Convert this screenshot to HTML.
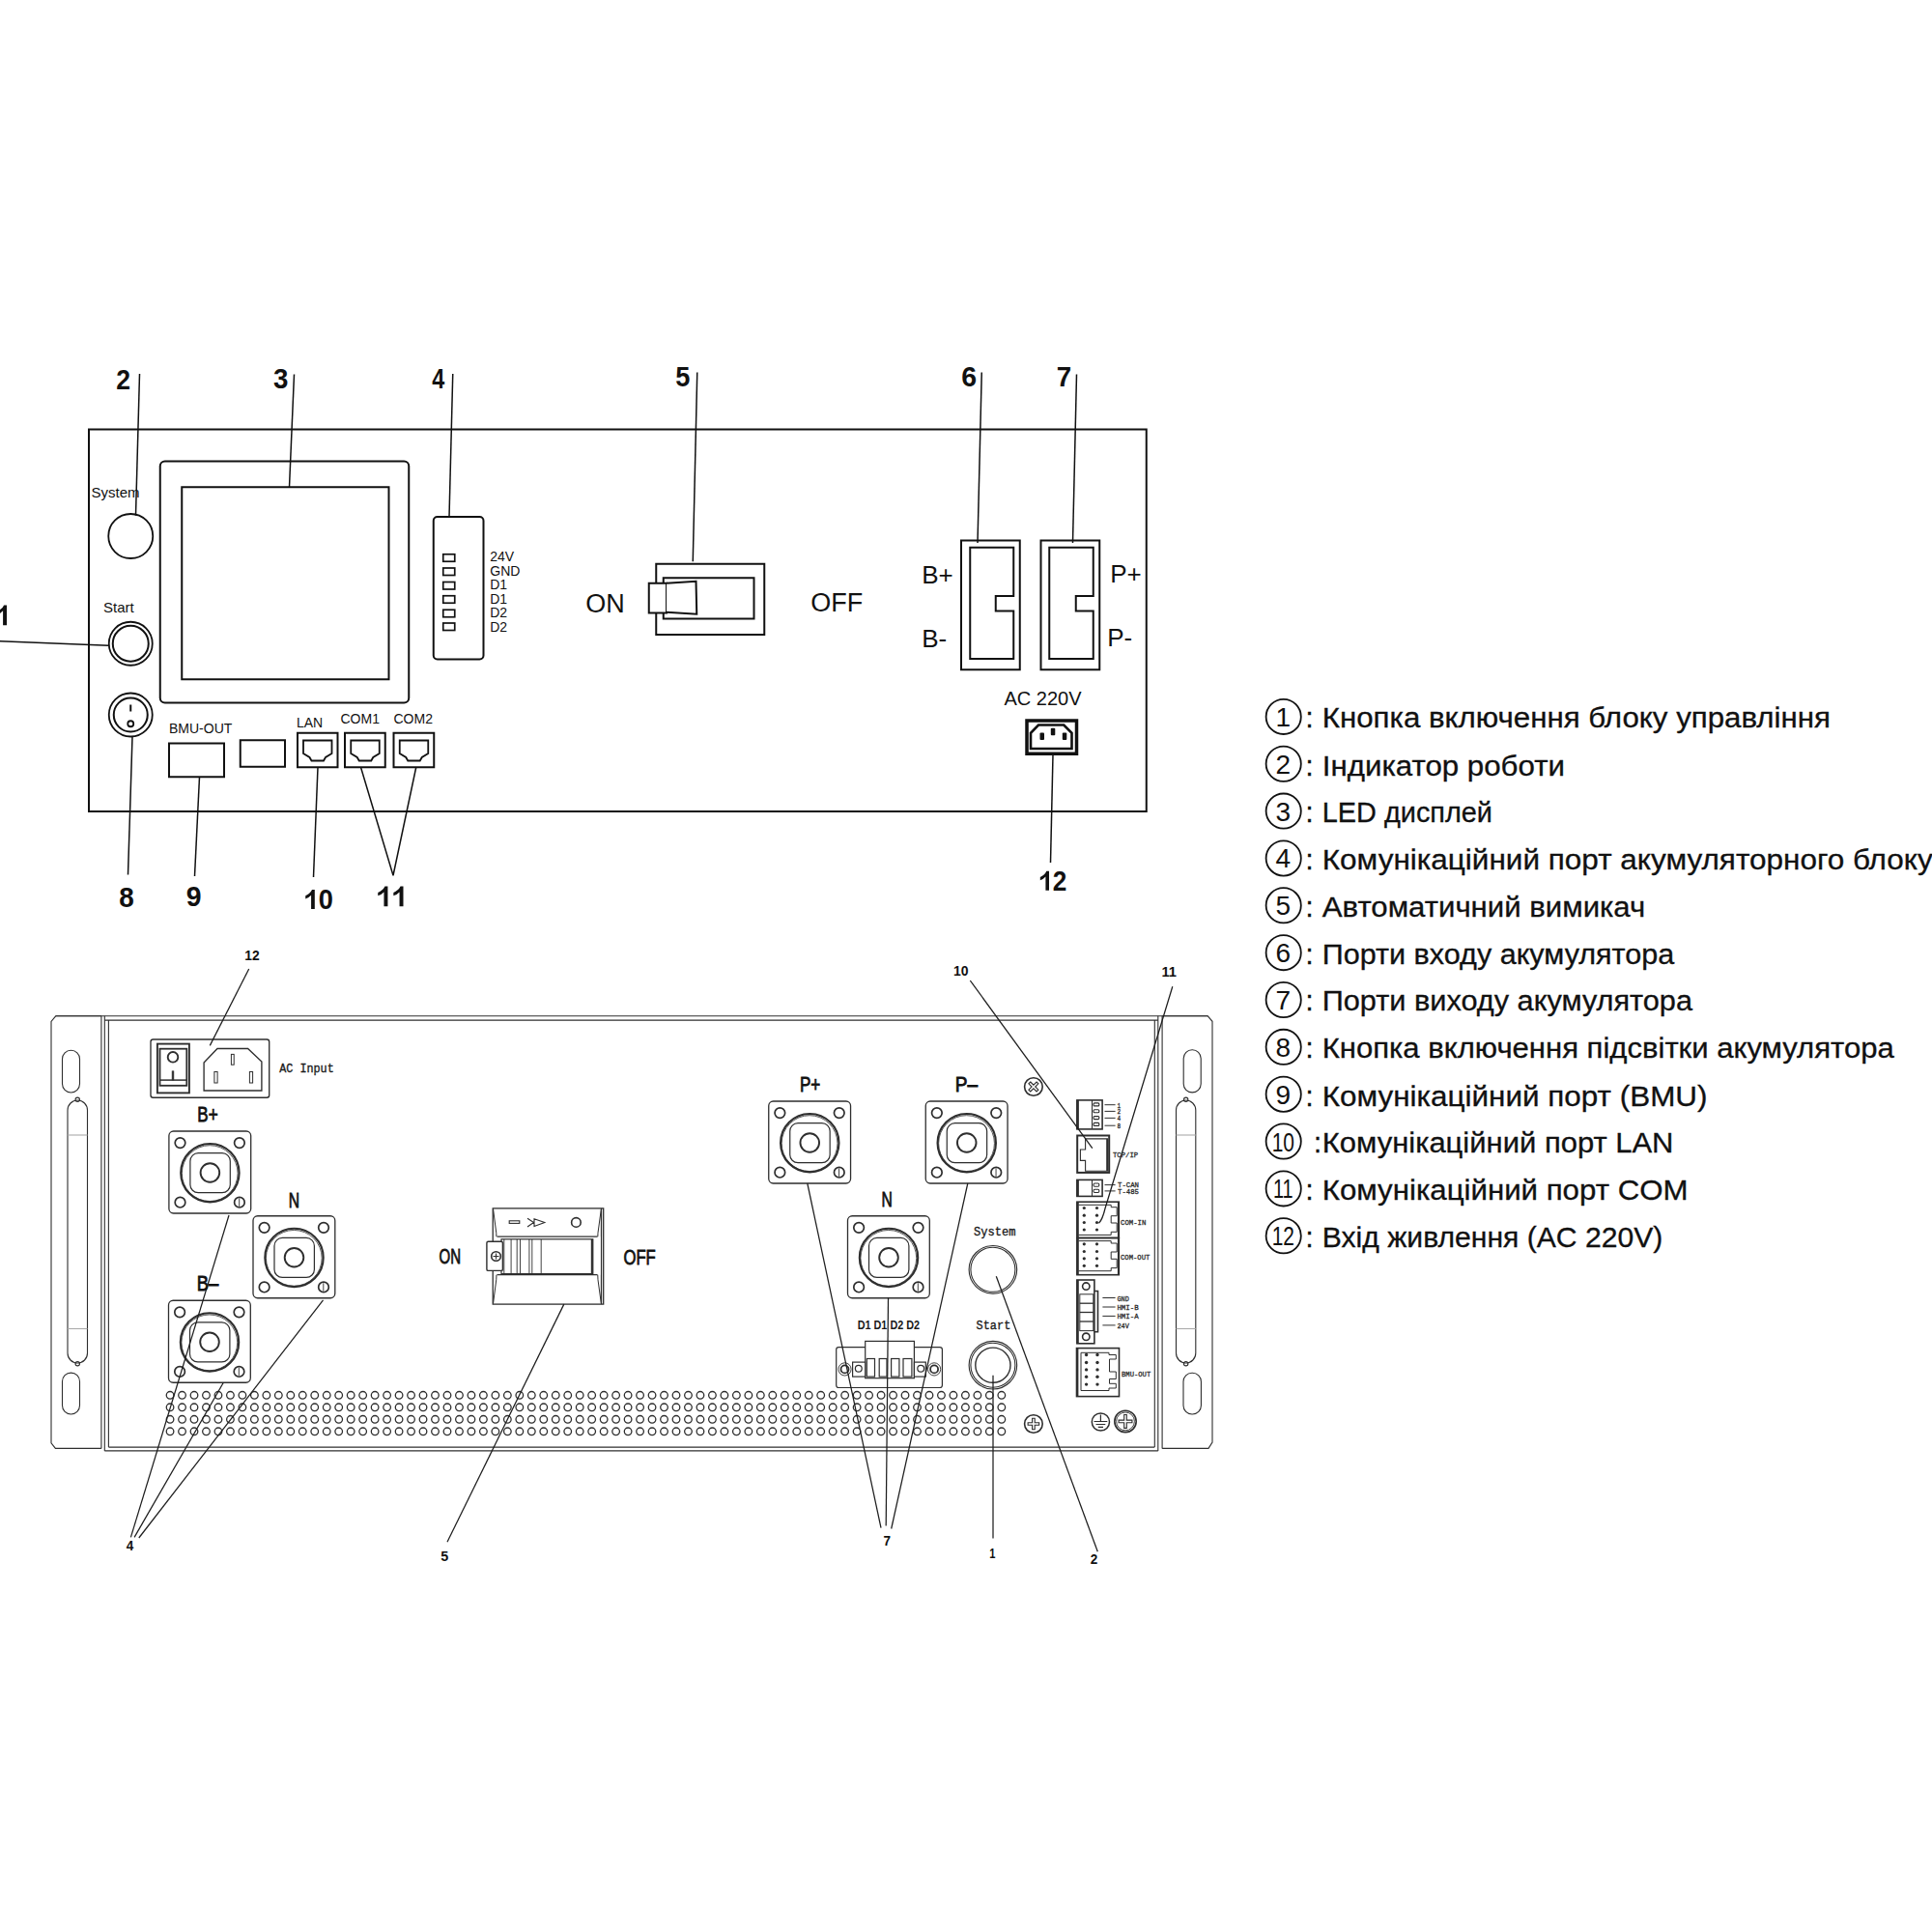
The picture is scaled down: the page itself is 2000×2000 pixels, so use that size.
<!DOCTYPE html>
<html><head><meta charset="utf-8"><style>
html,body{margin:0;padding:0;background:#fff;width:2000px;height:2000px;overflow:hidden}
svg{display:block}

</style></head><body>
<svg width="2000" height="2000" viewBox="0 0 2000 2000">
<!-- TOP DIAGRAM -->
<g fill="none" stroke="#111" stroke-width="2">
  <rect x="92" y="444.5" width="1094.75" height="395.5"/>
  <!-- display -->
  <rect x="165.75" y="477.5" width="257.5" height="250" rx="5"/>
  <rect x="188.25" y="504.25" width="214.25" height="199"/>
  <!-- buttons -->
  <circle cx="135.25" cy="555" r="23" stroke-width="1.8"/>
  <circle cx="135.25" cy="666.25" r="22.5" stroke-width="1.8"/>
  <circle cx="135.25" cy="666.25" r="18.5" stroke-width="2"/>
  <circle cx="135.25" cy="740" r="22.5" stroke-width="1.8"/>
  <circle cx="135.25" cy="740" r="17.5" stroke-width="2"/>
  <line x1="135.25" y1="729.5" x2="135.25" y2="736.5" stroke-width="2"/>
  <circle cx="135.25" cy="749.25" r="3" stroke-width="1.8"/>
  <!-- port 4 -->
  <rect x="448.75" y="535" width="51.75" height="147.5" rx="4"/>
  <g stroke-width="1.7">
    <rect x="458.75" y="573.75" width="12" height="7.5"/>
    <rect x="458.75" y="588" width="12" height="7.5"/>
    <rect x="458.75" y="602.5" width="12" height="7.5"/>
    <rect x="458.75" y="616.75" width="12" height="7.5"/>
    <rect x="458.75" y="631.25" width="12" height="7.5"/>
    <rect x="458.75" y="645" width="12" height="7.5"/>
  </g>
  <!-- bottom ports -->
  <rect x="175" y="769.5" width="57" height="34.75"/>
  <rect x="248.75" y="766.25" width="46.25" height="27.5"/>
  <rect x="308" y="758.75" width="41.5" height="35.5"/>
  <rect x="357" y="758.75" width="41.75" height="35.5"/>
  <rect x="407.5" y="758.75" width="41.75" height="35.5"/>
  <path d="M314,766.5 H343.5 V780 L337,784 L335,787.5 H322.5 L320.5,784 L314,780 Z" stroke-width="1.8"/>
  <path d="M363.25,766.5 H392.75 V780 L386.25,784 L384.25,787.5 H371.75 L369.75,784 L363.25,780 Z" stroke-width="1.8"/>
  <path d="M413.75,766.5 H443.25 V780 L436.75,784 L434.75,787.5 H422.25 L420.25,784 L413.75,780 Z" stroke-width="1.8"/>
  <!-- breaker -->
  <rect x="679.25" y="583.75" width="112" height="73.25"/>
  <rect x="686.75" y="598.25" width="93.75" height="42.25"/>
  <rect x="671.75" y="603.75" width="18.25" height="30.75" fill="#fff"/>
  <path d="M690,603.75 L720.5,601.75 L721.25,635.75 L690,633.75" fill="#fff"/>
  <!-- B/P connectors -->
  <rect x="995" y="559.5" width="60.75" height="133.75"/>
  <path d="M1004.25,566.75 H1049.25 V617 H1030.75 V632.5 H1049.25 V682 H1004.25 Z"/>
  <rect x="1077.5" y="559.5" width="60.75" height="133.75"/>
  <path d="M1086.25,566.75 H1131.75 V617 H1113.75 V632.5 H1131.75 V682 H1086.25 Z"/>
  <!-- AC socket -->
  <rect x="1063" y="746" width="51.5" height="34.25" stroke-width="3.5"/>
  <path d="M1075,750.5 H1101.25 L1109.5,758.75 V775 H1067 V758.75 Z" stroke-width="2.6"/>
  <!-- leader lines -->
  <g stroke-width="1.5">
    <line x1="0" y1="663.75" x2="112.5" y2="668.25"/>
    <line x1="144.5" y1="387" x2="140.5" y2="533.75"/>
    <line x1="304.5" y1="387.5" x2="299.5" y2="504.25"/>
    <line x1="468.75" y1="387" x2="465" y2="535"/>
    <line x1="721.75" y1="385.5" x2="717.25" y2="581.25"/>
    <line x1="1016.25" y1="385.5" x2="1012" y2="562"/>
    <line x1="1114.5" y1="387.5" x2="1110.5" y2="562"/>
    <line x1="137" y1="763" x2="132.5" y2="905.5"/>
    <line x1="206.5" y1="804.25" x2="201.5" y2="907"/>
    <line x1="329" y1="794.25" x2="324.5" y2="908"/>
    <polyline points="373.5,794.25 407,906.25 430.75,794.25"/>
    <line x1="1090" y1="781" x2="1087.5" y2="893"/>
  </g>
</g>
<g fill="#111" stroke="none">
  <rect x="1076.5" y="758.5" width="4.5" height="7.5" rx="1"/>
  <rect x="1087.8" y="753.8" width="4.5" height="7.5" rx="1"/>
  <rect x="1099.8" y="758.5" width="4.5" height="7.5" rx="1"/>
</g>
<g font-family="'Liberation Sans', sans-serif" fill="#111">

  <g font-size="15">
    <text x="94.5" y="514.5">System</text>
    <text x="107" y="633.75">Start</text>
  </g>
  <g font-size="14">
    <text x="507.25" y="580.75">24V</text>
    <text x="507.25" y="595.75">GND</text>
    <text x="507.25" y="610">D1</text>
    <text x="507.25" y="624.5">D1</text>
    <text x="507.25" y="639.25">D2</text>
    <text x="507.25" y="653.75">D2</text>
    <text x="175" y="759.25">BMU-OUT</text>
    <text x="307" y="752.5">LAN</text>
    <text x="352.5" y="748.75">COM1</text>
    <text x="407.5" y="748.75">COM2</text>
  </g>
  <g font-size="27">
    <text x="606.25" y="634.25">ON</text>
    <text x="839.25" y="632.5">OFF</text>
  </g>
  <g font-size="26">
    <text x="954.25" y="603.75">B+</text>
    <text x="954.25" y="670">B-</text>
    <text x="1149.25" y="603">P+</text>
    <text x="1146.25" y="668.75">P-</text>
  </g>
  <text x="1039.5" y="730" font-size="20">AC 220V</text>
</g>

<g fill="#111" font-family="'Liberation Sans', sans-serif" font-weight="bold">
<g transform="matrix(0.012995 0 0 0.014696 120.177 403.415)">
<text x="0" y="0" font-size="2048">2</text>
</g>
<g transform="matrix(0.013520 0 0 0.014050 283.115 401.891)">
<text x="0" y="0" font-size="2048">3</text>
</g>
<g transform="matrix(0.011405 0 0 0.014205 447.146 402.214)">
<text x="0" y="0" font-size="2048">4</text>
</g>
<g transform="matrix(0.013261 0 0 0.014356 699.165 399.527)">
<text x="0" y="0" font-size="2048">5</text>
</g>
<g transform="matrix(0.013903 0 0 0.014148 995.207 399.531)">
<text x="0" y="0" font-size="2048">6</text>
</g>
<g transform="matrix(0.013542 0 0 0.014418 1093.808 399.814)">
<text x="0" y="0" font-size="2048">7</text>
</g>
<g transform="matrix(0.013614 0 0 0.014148 123.365 938.981)">
<text x="0" y="0" font-size="2048">8</text>
</g>
<g transform="matrix(0.013875 0 0 0.014665 192.765 938.471)">
<text x="0" y="0" font-size="2048">9</text>
</g>
<g transform="matrix(0.013266 0 0 0.014148 314.658 940.981)">
<path transform="translate(0,0) scale(1,-1)" d="M840,0 V1409 H630 Q560,1250 400,1130 Q250,1020 120,970 V740 Q400,840 560,1010 V0 Z"/>
<text x="1139" y="0" font-size="2048">0</text>
</g>
<g transform="matrix(0.014120 0 0 0.014727 389.556 938.250)">
<path transform="translate(0,0) scale(1,-1)" d="M840,0 V1409 H630 Q560,1250 400,1130 Q250,1020 120,970 V740 Q400,840 560,1010 V0 Z"/>
<path transform="translate(1139,0) scale(1,-1)" d="M840,0 V1409 H630 Q560,1250 400,1130 Q250,1020 120,970 V740 Q400,840 560,1010 V0 Z"/>
</g>
<g transform="matrix(0.012771 0 0 0.014266 1075.267 921.800)">
<path transform="translate(0,0) scale(1,-1)" d="M840,0 V1409 H630 Q560,1250 400,1130 Q250,1020 120,970 V740 Q400,840 560,1010 V0 Z"/>
<text x="1139" y="0" font-size="2048">2</text>
</g>
<g transform="matrix(0.013957 0 0 0.014691 -4.724 647.200)">
<path transform="translate(0,0) scale(1,-1)" d="M840,0 V1409 H630 Q560,1250 400,1130 Q250,1020 120,970 V740 Q400,840 560,1010 V0 Z"/>
</g>
</g>
<!-- LEGEND -->
<g fill="none" stroke="#111" stroke-width="1.8">
<circle cx="1328.7" cy="741.90" r="18.1"/>
<circle cx="1328.7" cy="790.75" r="18.1"/>
<circle cx="1328.7" cy="839.60" r="18.1"/>
<circle cx="1328.7" cy="888.45" r="18.1"/>
<circle cx="1328.7" cy="937.30" r="18.1"/>
<circle cx="1328.7" cy="986.15" r="18.1"/>
<circle cx="1328.7" cy="1035.00" r="18.1"/>
<circle cx="1328.7" cy="1083.85" r="18.1"/>
<circle cx="1328.7" cy="1132.70" r="18.1"/>
<circle cx="1328.7" cy="1181.55" r="18.1"/>
<circle cx="1328.7" cy="1230.40" r="18.1"/>
<circle cx="1328.7" cy="1279.25" r="18.1"/>
</g>
<g font-family="'Liberation Sans', sans-serif" fill="#111" font-size="28" text-anchor="middle">
<text x="1328.4" y="751.90">1</text>
<text x="1328.4" y="800.75">2</text>
<text x="1328.4" y="849.60">3</text>
<text x="1328.4" y="898.45">4</text>
<text x="1328.4" y="947.30">5</text>
<text x="1328.4" y="996.15">6</text>
<text x="1328.4" y="1045.00">7</text>
<text x="1328.4" y="1093.85">8</text>
<text x="1328.4" y="1142.70">9</text>
<text x="1328.3" y="1191.55" textLength="23.3" lengthAdjust="spacingAndGlyphs">10</text>
<text x="1328.3" y="1240.40" textLength="20.7" lengthAdjust="spacingAndGlyphs">11</text>
<text x="1328.3" y="1289.25" textLength="23.3" lengthAdjust="spacingAndGlyphs">12</text>
</g>
<g font-family="'Liberation Sans', sans-serif" fill="#111" stroke="#111" stroke-width="0.3" font-size="29">
<text x="1351.5" y="753.25">:</text>
<text x="1368.75" y="753.25" textLength="526.25" lengthAdjust="spacingAndGlyphs">Кнопка включення блоку управління</text>
<text x="1351.5" y="802.5">:</text>
<text x="1368.75" y="802.5" textLength="251.25" lengthAdjust="spacingAndGlyphs">Індикатор роботи</text>
<text x="1351.5" y="851.25">:</text>
<text x="1368.75" y="851.25" textLength="176.25" lengthAdjust="spacingAndGlyphs">LED дисплей</text>
<text x="1351.5" y="900">:</text>
<text x="1368.75" y="900" textLength="632" lengthAdjust="spacingAndGlyphs">Комунікаційний порт акумуляторного блоку</text>
<text x="1351.5" y="948.75">:</text>
<text x="1368.75" y="948.75" textLength="334.5" lengthAdjust="spacingAndGlyphs">Автоматичний вимикач</text>
<text x="1351.5" y="997.5">:</text>
<text x="1368.75" y="997.5" textLength="364.5" lengthAdjust="spacingAndGlyphs">Порти входу акумулятора</text>
<text x="1351.5" y="1046.25">:</text>
<text x="1368.75" y="1046.25" textLength="383.25" lengthAdjust="spacingAndGlyphs">Порти виходу акумулятора</text>
<text x="1351.5" y="1095">:</text>
<text x="1368.75" y="1095" textLength="592" lengthAdjust="spacingAndGlyphs">Кнопка включення підсвітки акумулятора</text>
<text x="1351.5" y="1144.5">:</text>
<text x="1368.75" y="1144.5" textLength="398.75" lengthAdjust="spacingAndGlyphs">Комунікаційний порт (BMU)</text>
<text x="1360" y="1193">:</text>
<text x="1368.75" y="1193" textLength="363.75" lengthAdjust="spacingAndGlyphs">Комунікаційний порт LAN</text>
<text x="1351.5" y="1242">:</text>
<text x="1368.75" y="1242" textLength="378.75" lengthAdjust="spacingAndGlyphs">Комунікаційний порт COM</text>
<text x="1351.5" y="1291.25">:</text>
<text x="1368.75" y="1291.25" textLength="352.5" lengthAdjust="spacingAndGlyphs">Вхід живлення (AC 220V)</text>
</g>
<!-- BOTTOM DIAGRAM -->
<g fill="none" stroke="#2e2e2e" stroke-width="1.1">
<path d="M104.9,1051.8 H57.7 L53,1057.4 V1493.8 L57.4,1499.4 H104.9"/>
<path d="M1203.1,1051.8 H1250.3 L1255,1057.3 V1493.1 L1251,1499.4 H1203.1"/>
<line x1="57.7" y1="1051.8" x2="1250.3" y2="1051.8"/>
<line x1="108.3" y1="1056.1" x2="1198.8" y2="1056.1"/>
<line x1="104.9" y1="1051.8" x2="104.9" y2="1499.4"/>
<line x1="108.3" y1="1051.8" x2="108.3" y2="1501.9"/>
<line x1="112.4" y1="1056.1" x2="112.4" y2="1498.1"/>
<line x1="1195.3" y1="1056.1" x2="1195.3" y2="1498.1"/>
<line x1="1198.8" y1="1051.8" x2="1198.8" y2="1501.9"/>
<line x1="1203.1" y1="1051.8" x2="1203.1" y2="1499.4"/>
<line x1="112.4" y1="1498.1" x2="1195.3" y2="1498.1"/>
<line x1="108.3" y1="1501.9" x2="1198.8" y2="1501.9"/>
<rect x="64.5" y="1087.2" width="18.00" height="43.80" rx="9" ry="9"/>
<rect x="64.5" y="1421.1" width="18.00" height="42.90" rx="9" ry="9"/>
<rect x="1225.2" y="1086.8" width="18.00" height="44.10" rx="9" ry="9"/>
<rect x="1225" y="1421.3" width="18.40" height="42.70" rx="9" ry="9"/>
<rect x="70" y="1139" width="20.50" height="272" rx="10.2" ry="10.2"/>
<circle cx="80.25" cy="1138.3" r="2.2"/>
<circle cx="80.25" cy="1411.7" r="2.2"/>
<line x1="70" y1="1175" x2="90.5" y2="1175" stroke="#aaa"/>
<line x1="70" y1="1375.5" x2="90.5" y2="1375.5" stroke="#aaa"/>
<rect x="1217.5" y="1139" width="20.30" height="272" rx="10.2" ry="10.2"/>
<circle cx="1227.65" cy="1138.3" r="2.2"/>
<circle cx="1227.65" cy="1411.7" r="2.2"/>
<line x1="1217.5" y1="1175" x2="1237.8" y2="1175" stroke="#aaa"/>
<line x1="1217.5" y1="1375.5" x2="1237.8" y2="1375.5" stroke="#aaa"/>
</g>
<g fill="none" stroke="#2e2e2e" stroke-width="1.35">
<rect x="156" y="1076" width="122.7" height="60.25" rx="2.5"/>
<rect x="162.9" y="1080.6" width="33" height="50.8" stroke-width="1.9"/>
<rect x="165.5" y="1085.7" width="27.8" height="38.1" stroke-width="1.8"/>
<circle cx="179" cy="1094.3" r="5.3" stroke-width="1.9"/>
<line x1="165.3" y1="1118.1" x2="193.5" y2="1118.1" stroke-width="1.5"/>
<rect x="178.1" y="1108.8" width="1.8" height="9.3" fill="#2e2e2e" stroke-width="0.6"/>
<path d="M211.1,1100 L225,1085.5 H256.6 L270.9,1099 V1129 H211.1 Z"/>
<rect x="239.4" y="1091.4" width="2.8" height="10.8" stroke-width="1"/>
<rect x="221.9" y="1109.5" width="3.2" height="11.5" stroke-width="1"/>
<rect x="258.4" y="1109.5" width="3.2" height="11.5" stroke-width="1"/>
</g>
<g fill="none" stroke="#2e2e2e" stroke-width="1.3">
<rect x="174.9" y="1171" width="84.8" height="85" rx="4.7"/>
<circle cx="186.50" cy="1183.10" r="5.3" stroke-width="1.7"/>
<circle cx="247.90" cy="1183.10" r="5.3" stroke-width="1.7"/>
<circle cx="186.50" cy="1244.70" r="5.3" stroke-width="1.7"/>
<circle cx="247.90" cy="1244.70" r="5.3" stroke-width="1.7"/>
<line x1="247.70" y1="1240.50" x2="247.70" y2="1249.00" stroke-width="0.9"/>
<circle cx="217.40" cy="1214.20" r="30.2" stroke-width="2.1"/>
<circle cx="217.20" cy="1214.60" r="28.9" stroke-width="0.8"/>
<rect x="196.90" y="1193.70" width="41.4" height="41" rx="8.3" stroke-width="1.2"/>
<circle cx="217.40" cy="1214.00" r="9.8" stroke-width="1.9"/>
</g>
<g fill="none" stroke="#2e2e2e" stroke-width="1.3">
<rect x="262" y="1258.75" width="84.8" height="85" rx="4.7"/>
<circle cx="273.60" cy="1270.85" r="5.3" stroke-width="1.7"/>
<circle cx="335.00" cy="1270.85" r="5.3" stroke-width="1.7"/>
<circle cx="273.60" cy="1332.45" r="5.3" stroke-width="1.7"/>
<circle cx="335.00" cy="1332.45" r="5.3" stroke-width="1.7"/>
<line x1="334.80" y1="1328.25" x2="334.80" y2="1336.75" stroke-width="0.9"/>
<circle cx="304.50" cy="1301.95" r="30.2" stroke-width="2.1"/>
<circle cx="304.30" cy="1302.35" r="28.9" stroke-width="0.8"/>
<rect x="284.00" y="1281.45" width="41.4" height="41" rx="8.3" stroke-width="1.2"/>
<circle cx="304.50" cy="1301.75" r="9.8" stroke-width="1.9"/>
</g>
<g fill="none" stroke="#2e2e2e" stroke-width="1.3">
<rect x="174.5" y="1346.25" width="84.8" height="85" rx="4.7"/>
<circle cx="186.10" cy="1358.35" r="5.3" stroke-width="1.7"/>
<circle cx="247.50" cy="1358.35" r="5.3" stroke-width="1.7"/>
<circle cx="186.10" cy="1419.95" r="5.3" stroke-width="1.7"/>
<circle cx="247.50" cy="1419.95" r="5.3" stroke-width="1.7"/>
<line x1="247.30" y1="1415.75" x2="247.30" y2="1424.25" stroke-width="0.9"/>
<circle cx="217.00" cy="1389.45" r="30.2" stroke-width="2.1"/>
<circle cx="216.80" cy="1389.85" r="28.9" stroke-width="0.8"/>
<rect x="196.50" y="1368.95" width="41.4" height="41" rx="8.3" stroke-width="1.2"/>
<circle cx="217.00" cy="1389.25" r="9.8" stroke-width="1.9"/>
</g>
<g fill="none" stroke="#2e2e2e" stroke-width="1.3">
<rect x="795.75" y="1140" width="84.8" height="85" rx="4.7"/>
<circle cx="807.35" cy="1152.10" r="5.3" stroke-width="1.7"/>
<circle cx="868.75" cy="1152.10" r="5.3" stroke-width="1.7"/>
<circle cx="807.35" cy="1213.70" r="5.3" stroke-width="1.7"/>
<circle cx="868.75" cy="1213.70" r="5.3" stroke-width="1.7"/>
<line x1="868.55" y1="1209.50" x2="868.55" y2="1218.00" stroke-width="0.9"/>
<circle cx="838.25" cy="1183.20" r="30.2" stroke-width="2.1"/>
<circle cx="838.05" cy="1183.60" r="28.9" stroke-width="0.8"/>
<rect x="817.75" y="1162.70" width="41.4" height="41" rx="8.3" stroke-width="1.2"/>
<circle cx="838.25" cy="1183.00" r="9.8" stroke-width="1.9"/>
</g>
<g fill="none" stroke="#2e2e2e" stroke-width="1.3">
<rect x="958.25" y="1140" width="84.8" height="85" rx="4.7"/>
<circle cx="969.85" cy="1152.10" r="5.3" stroke-width="1.7"/>
<circle cx="1031.25" cy="1152.10" r="5.3" stroke-width="1.7"/>
<circle cx="969.85" cy="1213.70" r="5.3" stroke-width="1.7"/>
<circle cx="1031.25" cy="1213.70" r="5.3" stroke-width="1.7"/>
<line x1="1031.05" y1="1209.50" x2="1031.05" y2="1218.00" stroke-width="0.9"/>
<circle cx="1000.75" cy="1183.20" r="30.2" stroke-width="2.1"/>
<circle cx="1000.55" cy="1183.60" r="28.9" stroke-width="0.8"/>
<rect x="980.25" y="1162.70" width="41.4" height="41" rx="8.3" stroke-width="1.2"/>
<circle cx="1000.75" cy="1183.00" r="9.8" stroke-width="1.9"/>
</g>
<g fill="none" stroke="#2e2e2e" stroke-width="1.3">
<rect x="877.5" y="1258.75" width="84.8" height="85" rx="4.7"/>
<circle cx="889.10" cy="1270.85" r="5.3" stroke-width="1.7"/>
<circle cx="950.50" cy="1270.85" r="5.3" stroke-width="1.7"/>
<circle cx="889.10" cy="1332.45" r="5.3" stroke-width="1.7"/>
<circle cx="950.50" cy="1332.45" r="5.3" stroke-width="1.7"/>
<line x1="950.30" y1="1328.25" x2="950.30" y2="1336.75" stroke-width="0.9"/>
<circle cx="920.00" cy="1301.95" r="30.2" stroke-width="2.1"/>
<circle cx="919.80" cy="1302.35" r="28.9" stroke-width="0.8"/>
<rect x="899.50" y="1281.45" width="41.4" height="41" rx="8.3" stroke-width="1.2"/>
<circle cx="920.00" cy="1301.75" r="9.8" stroke-width="1.9"/>
</g>
<g fill="none" stroke="#2e2e2e" stroke-width="1.3">
<rect x="510.2" y="1250.9" width="114.5" height="99.2"/>
<line x1="622.5" y1="1250.9" x2="622.5" y2="1350.1"/>
<path d="M510.6,1252 Q519,1300.5 510.6,1349" stroke-width="1"/>
<path d="M622.3,1252 Q613.5,1300.5 622.3,1349" stroke-width="1"/>
<rect x="511.5" y="1280.2" width="110" height="39.5" fill="#fff" stroke="none"/>
<line x1="514.5" y1="1280.2" x2="618.5" y2="1280.2"/>
<line x1="514.5" y1="1319.7" x2="618.5" y2="1319.7"/>
<rect x="519" y="1282.8" width="94.8" height="35.8" stroke-width="1.2"/>
<line x1="612.8" y1="1283" x2="612.8" y2="1318.5" stroke-width="2"/>
<rect x="503.9" y="1285.3" width="16.5" height="30.1" rx="1.5" stroke-width="1.4" fill="#fff"/>
<circle cx="513.5" cy="1300.5" r="4.8" stroke-width="1.6"/>
<path d="M510.5,1300.5 H516.5 M513.5,1297.5 V1303.5" stroke-width="1"/>
<line x1="521.8" y1="1283" x2="521.8" y2="1318.5" stroke-width="0.9"/>
<line x1="529.1" y1="1283" x2="529.1" y2="1318.5" stroke-width="0.9"/>
<line x1="535.2" y1="1283" x2="535.2" y2="1318.5" stroke-width="0.9"/>
<line x1="538.5" y1="1283" x2="538.5" y2="1318.5" stroke-width="0.9"/>
<line x1="547.9" y1="1283" x2="547.9" y2="1318.5" stroke-width="0.9"/>
<line x1="550.8" y1="1283" x2="550.8" y2="1318.5" stroke-width="0.9"/>
<line x1="560.2" y1="1283" x2="560.2" y2="1318.5" stroke-width="0.9"/>
<rect x="527.2" y="1263.8" width="10.6" height="2.6" stroke-width="1.1"/>
<path d="M546,1261.2 L552.5,1265.5 L546,1270 M553,1261.8 L563.8,1265.5 L553,1269.4 Z" stroke-width="1.1"/>
<circle cx="596.4" cy="1265.4" r="4.8" stroke-width="1.6"/>
</g>
<g fill="none" stroke="#2e2e2e" stroke-width="1.3">
<circle cx="176.05" cy="1444.30" r="3.8"/>
<circle cx="188.53" cy="1444.30" r="3.8"/>
<circle cx="201.00" cy="1444.30" r="3.8"/>
<circle cx="213.48" cy="1444.30" r="3.8"/>
<circle cx="225.95" cy="1444.30" r="3.8"/>
<circle cx="238.43" cy="1444.30" r="3.8"/>
<circle cx="250.90" cy="1444.30" r="3.8"/>
<circle cx="263.38" cy="1444.30" r="3.8"/>
<circle cx="275.85" cy="1444.30" r="3.8"/>
<circle cx="288.32" cy="1444.30" r="3.8"/>
<circle cx="300.80" cy="1444.30" r="3.8"/>
<circle cx="313.27" cy="1444.30" r="3.8"/>
<circle cx="325.75" cy="1444.30" r="3.8"/>
<circle cx="338.23" cy="1444.30" r="3.8"/>
<circle cx="350.70" cy="1444.30" r="3.8"/>
<circle cx="363.18" cy="1444.30" r="3.8"/>
<circle cx="375.65" cy="1444.30" r="3.8"/>
<circle cx="388.12" cy="1444.30" r="3.8"/>
<circle cx="400.60" cy="1444.30" r="3.8"/>
<circle cx="413.08" cy="1444.30" r="3.8"/>
<circle cx="425.55" cy="1444.30" r="3.8"/>
<circle cx="438.02" cy="1444.30" r="3.8"/>
<circle cx="450.50" cy="1444.30" r="3.8"/>
<circle cx="462.98" cy="1444.30" r="3.8"/>
<circle cx="475.45" cy="1444.30" r="3.8"/>
<circle cx="487.93" cy="1444.30" r="3.8"/>
<circle cx="500.40" cy="1444.30" r="3.8"/>
<circle cx="512.88" cy="1444.30" r="3.8"/>
<circle cx="525.35" cy="1444.30" r="3.8"/>
<circle cx="537.83" cy="1444.30" r="3.8"/>
<circle cx="550.30" cy="1444.30" r="3.8"/>
<circle cx="562.77" cy="1444.30" r="3.8"/>
<circle cx="575.25" cy="1444.30" r="3.8"/>
<circle cx="587.73" cy="1444.30" r="3.8"/>
<circle cx="600.20" cy="1444.30" r="3.8"/>
<circle cx="612.67" cy="1444.30" r="3.8"/>
<circle cx="625.15" cy="1444.30" r="3.8"/>
<circle cx="637.62" cy="1444.30" r="3.8"/>
<circle cx="650.10" cy="1444.30" r="3.8"/>
<circle cx="662.58" cy="1444.30" r="3.8"/>
<circle cx="675.05" cy="1444.30" r="3.8"/>
<circle cx="687.52" cy="1444.30" r="3.8"/>
<circle cx="700.00" cy="1444.30" r="3.8"/>
<circle cx="712.47" cy="1444.30" r="3.8"/>
<circle cx="724.95" cy="1444.30" r="3.8"/>
<circle cx="737.42" cy="1444.30" r="3.8"/>
<circle cx="749.90" cy="1444.30" r="3.8"/>
<circle cx="762.38" cy="1444.30" r="3.8"/>
<circle cx="774.85" cy="1444.30" r="3.8"/>
<circle cx="787.33" cy="1444.30" r="3.8"/>
<circle cx="799.80" cy="1444.30" r="3.8"/>
<circle cx="812.28" cy="1444.30" r="3.8"/>
<circle cx="824.75" cy="1444.30" r="3.8"/>
<circle cx="837.22" cy="1444.30" r="3.8"/>
<circle cx="849.70" cy="1444.30" r="3.8"/>
<circle cx="862.17" cy="1444.30" r="3.8"/>
<circle cx="874.65" cy="1444.30" r="3.8"/>
<circle cx="887.12" cy="1444.30" r="3.8"/>
<circle cx="899.60" cy="1444.30" r="3.8"/>
<circle cx="912.08" cy="1444.30" r="3.8"/>
<circle cx="924.55" cy="1444.30" r="3.8"/>
<circle cx="937.03" cy="1444.30" r="3.8"/>
<circle cx="949.50" cy="1444.30" r="3.8"/>
<circle cx="961.97" cy="1444.30" r="3.8"/>
<circle cx="974.45" cy="1444.30" r="3.8"/>
<circle cx="986.92" cy="1444.30" r="3.8"/>
<circle cx="999.40" cy="1444.30" r="3.8"/>
<circle cx="1011.88" cy="1444.30" r="3.8"/>
<circle cx="1024.35" cy="1444.30" r="3.8"/>
<circle cx="1036.83" cy="1444.30" r="3.8"/>
<circle cx="176.05" cy="1456.80" r="3.8"/>
<circle cx="188.53" cy="1456.80" r="3.8"/>
<circle cx="201.00" cy="1456.80" r="3.8"/>
<circle cx="213.48" cy="1456.80" r="3.8"/>
<circle cx="225.95" cy="1456.80" r="3.8"/>
<circle cx="238.43" cy="1456.80" r="3.8"/>
<circle cx="250.90" cy="1456.80" r="3.8"/>
<circle cx="263.38" cy="1456.80" r="3.8"/>
<circle cx="275.85" cy="1456.80" r="3.8"/>
<circle cx="288.32" cy="1456.80" r="3.8"/>
<circle cx="300.80" cy="1456.80" r="3.8"/>
<circle cx="313.27" cy="1456.80" r="3.8"/>
<circle cx="325.75" cy="1456.80" r="3.8"/>
<circle cx="338.23" cy="1456.80" r="3.8"/>
<circle cx="350.70" cy="1456.80" r="3.8"/>
<circle cx="363.18" cy="1456.80" r="3.8"/>
<circle cx="375.65" cy="1456.80" r="3.8"/>
<circle cx="388.12" cy="1456.80" r="3.8"/>
<circle cx="400.60" cy="1456.80" r="3.8"/>
<circle cx="413.08" cy="1456.80" r="3.8"/>
<circle cx="425.55" cy="1456.80" r="3.8"/>
<circle cx="438.02" cy="1456.80" r="3.8"/>
<circle cx="450.50" cy="1456.80" r="3.8"/>
<circle cx="462.98" cy="1456.80" r="3.8"/>
<circle cx="475.45" cy="1456.80" r="3.8"/>
<circle cx="487.93" cy="1456.80" r="3.8"/>
<circle cx="500.40" cy="1456.80" r="3.8"/>
<circle cx="512.88" cy="1456.80" r="3.8"/>
<circle cx="525.35" cy="1456.80" r="3.8"/>
<circle cx="537.83" cy="1456.80" r="3.8"/>
<circle cx="550.30" cy="1456.80" r="3.8"/>
<circle cx="562.77" cy="1456.80" r="3.8"/>
<circle cx="575.25" cy="1456.80" r="3.8"/>
<circle cx="587.73" cy="1456.80" r="3.8"/>
<circle cx="600.20" cy="1456.80" r="3.8"/>
<circle cx="612.67" cy="1456.80" r="3.8"/>
<circle cx="625.15" cy="1456.80" r="3.8"/>
<circle cx="637.62" cy="1456.80" r="3.8"/>
<circle cx="650.10" cy="1456.80" r="3.8"/>
<circle cx="662.58" cy="1456.80" r="3.8"/>
<circle cx="675.05" cy="1456.80" r="3.8"/>
<circle cx="687.52" cy="1456.80" r="3.8"/>
<circle cx="700.00" cy="1456.80" r="3.8"/>
<circle cx="712.47" cy="1456.80" r="3.8"/>
<circle cx="724.95" cy="1456.80" r="3.8"/>
<circle cx="737.42" cy="1456.80" r="3.8"/>
<circle cx="749.90" cy="1456.80" r="3.8"/>
<circle cx="762.38" cy="1456.80" r="3.8"/>
<circle cx="774.85" cy="1456.80" r="3.8"/>
<circle cx="787.33" cy="1456.80" r="3.8"/>
<circle cx="799.80" cy="1456.80" r="3.8"/>
<circle cx="812.28" cy="1456.80" r="3.8"/>
<circle cx="824.75" cy="1456.80" r="3.8"/>
<circle cx="837.22" cy="1456.80" r="3.8"/>
<circle cx="849.70" cy="1456.80" r="3.8"/>
<circle cx="862.17" cy="1456.80" r="3.8"/>
<circle cx="874.65" cy="1456.80" r="3.8"/>
<circle cx="887.12" cy="1456.80" r="3.8"/>
<circle cx="899.60" cy="1456.80" r="3.8"/>
<circle cx="912.08" cy="1456.80" r="3.8"/>
<circle cx="924.55" cy="1456.80" r="3.8"/>
<circle cx="937.03" cy="1456.80" r="3.8"/>
<circle cx="949.50" cy="1456.80" r="3.8"/>
<circle cx="961.97" cy="1456.80" r="3.8"/>
<circle cx="974.45" cy="1456.80" r="3.8"/>
<circle cx="986.92" cy="1456.80" r="3.8"/>
<circle cx="999.40" cy="1456.80" r="3.8"/>
<circle cx="1011.88" cy="1456.80" r="3.8"/>
<circle cx="1024.35" cy="1456.80" r="3.8"/>
<circle cx="1036.83" cy="1456.80" r="3.8"/>
<circle cx="176.05" cy="1469.30" r="3.8"/>
<circle cx="188.53" cy="1469.30" r="3.8"/>
<circle cx="201.00" cy="1469.30" r="3.8"/>
<circle cx="213.48" cy="1469.30" r="3.8"/>
<circle cx="225.95" cy="1469.30" r="3.8"/>
<circle cx="238.43" cy="1469.30" r="3.8"/>
<circle cx="250.90" cy="1469.30" r="3.8"/>
<circle cx="263.38" cy="1469.30" r="3.8"/>
<circle cx="275.85" cy="1469.30" r="3.8"/>
<circle cx="288.32" cy="1469.30" r="3.8"/>
<circle cx="300.80" cy="1469.30" r="3.8"/>
<circle cx="313.27" cy="1469.30" r="3.8"/>
<circle cx="325.75" cy="1469.30" r="3.8"/>
<circle cx="338.23" cy="1469.30" r="3.8"/>
<circle cx="350.70" cy="1469.30" r="3.8"/>
<circle cx="363.18" cy="1469.30" r="3.8"/>
<circle cx="375.65" cy="1469.30" r="3.8"/>
<circle cx="388.12" cy="1469.30" r="3.8"/>
<circle cx="400.60" cy="1469.30" r="3.8"/>
<circle cx="413.08" cy="1469.30" r="3.8"/>
<circle cx="425.55" cy="1469.30" r="3.8"/>
<circle cx="438.02" cy="1469.30" r="3.8"/>
<circle cx="450.50" cy="1469.30" r="3.8"/>
<circle cx="462.98" cy="1469.30" r="3.8"/>
<circle cx="475.45" cy="1469.30" r="3.8"/>
<circle cx="487.93" cy="1469.30" r="3.8"/>
<circle cx="500.40" cy="1469.30" r="3.8"/>
<circle cx="512.88" cy="1469.30" r="3.8"/>
<circle cx="525.35" cy="1469.30" r="3.8"/>
<circle cx="537.83" cy="1469.30" r="3.8"/>
<circle cx="550.30" cy="1469.30" r="3.8"/>
<circle cx="562.77" cy="1469.30" r="3.8"/>
<circle cx="575.25" cy="1469.30" r="3.8"/>
<circle cx="587.73" cy="1469.30" r="3.8"/>
<circle cx="600.20" cy="1469.30" r="3.8"/>
<circle cx="612.67" cy="1469.30" r="3.8"/>
<circle cx="625.15" cy="1469.30" r="3.8"/>
<circle cx="637.62" cy="1469.30" r="3.8"/>
<circle cx="650.10" cy="1469.30" r="3.8"/>
<circle cx="662.58" cy="1469.30" r="3.8"/>
<circle cx="675.05" cy="1469.30" r="3.8"/>
<circle cx="687.52" cy="1469.30" r="3.8"/>
<circle cx="700.00" cy="1469.30" r="3.8"/>
<circle cx="712.47" cy="1469.30" r="3.8"/>
<circle cx="724.95" cy="1469.30" r="3.8"/>
<circle cx="737.42" cy="1469.30" r="3.8"/>
<circle cx="749.90" cy="1469.30" r="3.8"/>
<circle cx="762.38" cy="1469.30" r="3.8"/>
<circle cx="774.85" cy="1469.30" r="3.8"/>
<circle cx="787.33" cy="1469.30" r="3.8"/>
<circle cx="799.80" cy="1469.30" r="3.8"/>
<circle cx="812.28" cy="1469.30" r="3.8"/>
<circle cx="824.75" cy="1469.30" r="3.8"/>
<circle cx="837.22" cy="1469.30" r="3.8"/>
<circle cx="849.70" cy="1469.30" r="3.8"/>
<circle cx="862.17" cy="1469.30" r="3.8"/>
<circle cx="874.65" cy="1469.30" r="3.8"/>
<circle cx="887.12" cy="1469.30" r="3.8"/>
<circle cx="899.60" cy="1469.30" r="3.8"/>
<circle cx="912.08" cy="1469.30" r="3.8"/>
<circle cx="924.55" cy="1469.30" r="3.8"/>
<circle cx="937.03" cy="1469.30" r="3.8"/>
<circle cx="949.50" cy="1469.30" r="3.8"/>
<circle cx="961.97" cy="1469.30" r="3.8"/>
<circle cx="974.45" cy="1469.30" r="3.8"/>
<circle cx="986.92" cy="1469.30" r="3.8"/>
<circle cx="999.40" cy="1469.30" r="3.8"/>
<circle cx="1011.88" cy="1469.30" r="3.8"/>
<circle cx="1024.35" cy="1469.30" r="3.8"/>
<circle cx="1036.83" cy="1469.30" r="3.8"/>
<circle cx="176.05" cy="1481.80" r="3.8"/>
<circle cx="188.53" cy="1481.80" r="3.8"/>
<circle cx="201.00" cy="1481.80" r="3.8"/>
<circle cx="213.48" cy="1481.80" r="3.8"/>
<circle cx="225.95" cy="1481.80" r="3.8"/>
<circle cx="238.43" cy="1481.80" r="3.8"/>
<circle cx="250.90" cy="1481.80" r="3.8"/>
<circle cx="263.38" cy="1481.80" r="3.8"/>
<circle cx="275.85" cy="1481.80" r="3.8"/>
<circle cx="288.32" cy="1481.80" r="3.8"/>
<circle cx="300.80" cy="1481.80" r="3.8"/>
<circle cx="313.27" cy="1481.80" r="3.8"/>
<circle cx="325.75" cy="1481.80" r="3.8"/>
<circle cx="338.23" cy="1481.80" r="3.8"/>
<circle cx="350.70" cy="1481.80" r="3.8"/>
<circle cx="363.18" cy="1481.80" r="3.8"/>
<circle cx="375.65" cy="1481.80" r="3.8"/>
<circle cx="388.12" cy="1481.80" r="3.8"/>
<circle cx="400.60" cy="1481.80" r="3.8"/>
<circle cx="413.08" cy="1481.80" r="3.8"/>
<circle cx="425.55" cy="1481.80" r="3.8"/>
<circle cx="438.02" cy="1481.80" r="3.8"/>
<circle cx="450.50" cy="1481.80" r="3.8"/>
<circle cx="462.98" cy="1481.80" r="3.8"/>
<circle cx="475.45" cy="1481.80" r="3.8"/>
<circle cx="487.93" cy="1481.80" r="3.8"/>
<circle cx="500.40" cy="1481.80" r="3.8"/>
<circle cx="512.88" cy="1481.80" r="3.8"/>
<circle cx="525.35" cy="1481.80" r="3.8"/>
<circle cx="537.83" cy="1481.80" r="3.8"/>
<circle cx="550.30" cy="1481.80" r="3.8"/>
<circle cx="562.77" cy="1481.80" r="3.8"/>
<circle cx="575.25" cy="1481.80" r="3.8"/>
<circle cx="587.73" cy="1481.80" r="3.8"/>
<circle cx="600.20" cy="1481.80" r="3.8"/>
<circle cx="612.67" cy="1481.80" r="3.8"/>
<circle cx="625.15" cy="1481.80" r="3.8"/>
<circle cx="637.62" cy="1481.80" r="3.8"/>
<circle cx="650.10" cy="1481.80" r="3.8"/>
<circle cx="662.58" cy="1481.80" r="3.8"/>
<circle cx="675.05" cy="1481.80" r="3.8"/>
<circle cx="687.52" cy="1481.80" r="3.8"/>
<circle cx="700.00" cy="1481.80" r="3.8"/>
<circle cx="712.47" cy="1481.80" r="3.8"/>
<circle cx="724.95" cy="1481.80" r="3.8"/>
<circle cx="737.42" cy="1481.80" r="3.8"/>
<circle cx="749.90" cy="1481.80" r="3.8"/>
<circle cx="762.38" cy="1481.80" r="3.8"/>
<circle cx="774.85" cy="1481.80" r="3.8"/>
<circle cx="787.33" cy="1481.80" r="3.8"/>
<circle cx="799.80" cy="1481.80" r="3.8"/>
<circle cx="812.28" cy="1481.80" r="3.8"/>
<circle cx="824.75" cy="1481.80" r="3.8"/>
<circle cx="837.22" cy="1481.80" r="3.8"/>
<circle cx="849.70" cy="1481.80" r="3.8"/>
<circle cx="862.17" cy="1481.80" r="3.8"/>
<circle cx="874.65" cy="1481.80" r="3.8"/>
<circle cx="887.12" cy="1481.80" r="3.8"/>
<circle cx="899.60" cy="1481.80" r="3.8"/>
<circle cx="912.08" cy="1481.80" r="3.8"/>
<circle cx="924.55" cy="1481.80" r="3.8"/>
<circle cx="937.03" cy="1481.80" r="3.8"/>
<circle cx="949.50" cy="1481.80" r="3.8"/>
<circle cx="961.97" cy="1481.80" r="3.8"/>
<circle cx="974.45" cy="1481.80" r="3.8"/>
<circle cx="986.92" cy="1481.80" r="3.8"/>
<circle cx="999.40" cy="1481.80" r="3.8"/>
<circle cx="1011.88" cy="1481.80" r="3.8"/>
<circle cx="1024.35" cy="1481.80" r="3.8"/>
<circle cx="1036.83" cy="1481.80" r="3.8"/>
</g>
<g fill="none" stroke="#2e2e2e" stroke-width="1.2">
<rect x="865.7" y="1394.6" width="109.7" height="41.9" rx="2.5"/>
<rect x="895.7" y="1388.4" width="50.7" height="38.3" fill="#fff"/>
<rect x="882.6" y="1410.1" width="13.1" height="15" fill="#fff"/>
<rect x="946.4" y="1410.1" width="11.9" height="15" fill="#fff"/>
<circle cx="888.8" cy="1416.8" r="3.4"/>
<circle cx="953.2" cy="1416.8" r="3.4"/>
<circle cx="874.5" cy="1417.4" r="6.6" stroke-width="0.9"/>
<circle cx="874.5" cy="1417.4" r="4" stroke-width="1.8"/>
<circle cx="967.1" cy="1417.4" r="6.6" stroke-width="0.9"/>
<circle cx="967.1" cy="1417.4" r="4" stroke-width="1.8"/>
<rect x="897.3" y="1406.5" width="8.20" height="18.6"/>
<rect x="910.2" y="1406.5" width="7.80" height="18.6"/>
<rect x="922.6" y="1406.5" width="8.30" height="18.6"/>
<rect x="935" y="1406.5" width="8.90" height="18.6"/>
</g>
<g fill="none" stroke="#2e2e2e" stroke-width="1.1">
<circle cx="1027.9" cy="1314.3" r="24.8"/>
<circle cx="1027.9" cy="1314.3" r="23"/>
<circle cx="1027.9" cy="1413.2" r="24.8"/>
<circle cx="1027.9" cy="1413.2" r="23"/>
<circle cx="1027.9" cy="1413.2" r="18.1" stroke-width="1.4"/>
</g>
<g transform="rotate(45 1069.9 1125)">
<g fill="none" stroke="#2e2e2e">
<circle cx="1069.9" cy="1125" r="9.3" stroke-width="1.6"/>
<path d="M1064.13,1123.70 H1068.60 V1119.23 H1071.20 V1123.70 H1075.67 V1126.30 H1071.20 V1130.77 H1068.60 V1126.30 H1064.13 Z" stroke-width="1.1"/>
</g>
</g>
<g fill="none" stroke="#2e2e2e">
<circle cx="1069.9" cy="1474" r="9.3" stroke-width="1.6"/>
<path d="M1064.13,1472.70 H1068.60 V1468.23 H1071.20 V1472.70 H1075.67 V1475.30 H1071.20 V1479.77 H1068.60 V1475.30 H1064.13 Z" stroke-width="1.1"/>
</g>
<g fill="none" stroke="#2e2e2e">
<circle cx="1165" cy="1471.4" r="11.2" stroke-width="1.6"/>
<circle cx="1165" cy="1471.4" r="9.40" stroke-width="0.9"/>
<path d="M1158.06,1470.10 H1163.70 V1464.46 H1166.30 V1470.10 H1171.94 V1472.70 H1166.30 V1478.34 H1163.70 V1472.70 H1158.06 Z" stroke-width="1.1"/>
</g>
<g fill="none" stroke="#2e2e2e" stroke-width="1.5">
<circle cx="1139.4" cy="1472" r="9.1"/>
<path d="M1139.4,1464.5 V1471.5 M1132.5,1471.5 H1146.3 M1134.5,1474.5 H1144.3 M1136.8,1477.3 H1142" stroke-width="1.2"/>
</g>
<g fill="none" stroke="#2e2e2e" stroke-width="1.5">
<rect x="1114.9" y="1138.9" width="26.2" height="30" stroke-width="1.6"/>
<line x1="1115.6" y1="1138.9" x2="1115.6" y2="1168.9" stroke-width="2.6"/>
<line x1="1130.5" y1="1139" x2="1130.5" y2="1168.5" stroke-width="1"/>
<rect x="1132" y="1141.90" width="5.8" height="3" rx="1" stroke-width="1.1"/>
<rect x="1132" y="1148.70" width="5.8" height="3" rx="1" stroke-width="1.1"/>
<rect x="1132" y="1155.60" width="5.8" height="3" rx="1" stroke-width="1.1"/>
<rect x="1132" y="1162.40" width="5.8" height="3" rx="1" stroke-width="1.1"/>
<line x1="1143.5" y1="1143.7" x2="1154.6" y2="1143.7" stroke-width="1"/>
<line x1="1143.5" y1="1150.4" x2="1154.6" y2="1150.4" stroke-width="1"/>
<line x1="1143.5" y1="1157.4" x2="1154.6" y2="1157.4" stroke-width="1"/>
<line x1="1143.5" y1="1165.2" x2="1154.6" y2="1165.2" stroke-width="1"/>
<rect x="1115.2" y="1175.5" width="33" height="38.4" stroke-width="2"/>
<path d="M1123.6,1178.9 H1146.6 V1212.3 H1123.6 V1201.4 H1118.4 V1190 H1123.6 Z" stroke-width="1.1"/>
<line x1="1146.2" y1="1179" x2="1146.2" y2="1212" stroke-width="2"/>
<rect x="1114.9" y="1221.4" width="26.2" height="17" stroke-width="1.6"/>
<line x1="1115.6" y1="1221.4" x2="1115.6" y2="1238.4" stroke-width="2.6"/>
<line x1="1130.5" y1="1221.5" x2="1130.5" y2="1238" stroke-width="1"/>
<rect x="1132" y="1225.00" width="5.8" height="3.2" rx="1.2" stroke-width="1.1"/>
<line x1="1143.5" y1="1226.6" x2="1154.6" y2="1226.6" stroke-width="1"/>
<rect x="1132" y="1231.30" width="5.8" height="3.2" rx="1.2" stroke-width="1.1"/>
<line x1="1143.5" y1="1232.9" x2="1154.6" y2="1232.9" stroke-width="1"/>
<rect x="1114.9" y="1244.2" width="43.4" height="37.30" stroke-width="1.6"/>
<line x1="1115.6" y1="1244.2" x2="1115.6" y2="1281.5" stroke-width="2.4"/>
<path d="M1116.5,1247.30 H1150.2 V1249.70 H1156.2 V1258.70 H1150.2 V1266.00 H1156.2 V1275.30 H1150.2 V1278.40 H1116.5" stroke-width="1"/>
<rect x="1114.9" y="1281.5" width="43.4" height="38.20" stroke-width="1.6"/>
<line x1="1115.6" y1="1281.5" x2="1115.6" y2="1319.7" stroke-width="2.4"/>
<path d="M1116.5,1284.60 H1150.2 V1287.00 H1156.2 V1296.00 H1150.2 V1303.30 H1156.2 V1312.60 H1150.2 V1315.70 H1116.5" stroke-width="1"/>
<line x1="1157.8" y1="1244.2" x2="1157.8" y2="1319.7" stroke-width="1.8"/>
</g>
<g fill="#2e2e2e">
<circle cx="1122.3" cy="1250.50" r="1.6"/>
<circle cx="1135.5" cy="1250.50" r="1.6"/>
<circle cx="1122.3" cy="1258.20" r="1.6"/>
<circle cx="1135.5" cy="1258.20" r="1.6"/>
<circle cx="1122.3" cy="1265.50" r="1.6"/>
<circle cx="1135.5" cy="1265.50" r="1.6"/>
<circle cx="1122.3" cy="1273.00" r="1.6"/>
<circle cx="1135.5" cy="1273.00" r="1.6"/>
<circle cx="1122.3" cy="1287.80" r="1.6"/>
<circle cx="1135.5" cy="1287.80" r="1.6"/>
<circle cx="1122.3" cy="1295.50" r="1.6"/>
<circle cx="1135.5" cy="1295.50" r="1.6"/>
<circle cx="1122.3" cy="1302.80" r="1.6"/>
<circle cx="1135.5" cy="1302.80" r="1.6"/>
<circle cx="1122.3" cy="1310.30" r="1.6"/>
<circle cx="1135.5" cy="1310.30" r="1.6"/>
</g>
<g fill="none" stroke="#2e2e2e" stroke-width="1.5">
<rect x="1114.9" y="1325" width="18" height="65.8" stroke-width="1.6"/>
<line x1="1115.6" y1="1325" x2="1115.6" y2="1390.8" stroke-width="2.4"/>
<path d="M1132.9,1336.5 H1136.5 V1378.7 H1132.9" stroke-width="1.6"/>
<circle cx="1124.3" cy="1331.6" r="3.7" stroke-width="1.6"/>
<circle cx="1124.3" cy="1383.8" r="3.7" stroke-width="1.6"/>
<rect x="1117.8" y="1339.8" width="14" height="37.8" stroke-width="1"/>
<line x1="1117.8" y1="1349.2" x2="1131.8" y2="1349.2" stroke-width="1.3"/>
<line x1="1117.8" y1="1358.5" x2="1131.8" y2="1358.5" stroke-width="1.3"/>
<line x1="1117.8" y1="1368" x2="1131.8" y2="1368" stroke-width="1.3"/>
<line x1="1141.4" y1="1343.5" x2="1154.6" y2="1343.5" stroke-width="1"/>
<line x1="1141.4" y1="1353" x2="1154.6" y2="1353" stroke-width="1"/>
<line x1="1141.4" y1="1362.4" x2="1154.6" y2="1362.4" stroke-width="1"/>
<line x1="1141.4" y1="1371.9" x2="1154.6" y2="1371.9" stroke-width="1"/>
<rect x="1114.5" y="1395.6" width="44" height="50" stroke-width="1.6"/>
<line x1="1115.2" y1="1395.6" x2="1115.2" y2="1445.6" stroke-width="2.4"/>
<path d="M1119,1400.3 H1148 V1402.5 H1155.3 V1407 H1148.5 V1420 H1155.3 V1427.5 H1148.5 V1432.3 H1155.3 V1437 H1148 V1439.5 H1119 Z" stroke-width="1"/>
</g>
<g fill="#2e2e2e">
<circle cx="1124.6" cy="1402.5" r="1.7"/>
<circle cx="1136" cy="1402.5" r="1.7"/>
<circle cx="1124.6" cy="1410.5" r="1.7"/>
<circle cx="1136" cy="1410.5" r="1.7"/>
<circle cx="1124.6" cy="1417.9" r="1.7"/>
<circle cx="1136" cy="1417.9" r="1.7"/>
<circle cx="1124.6" cy="1425.3" r="1.7"/>
<circle cx="1136" cy="1425.3" r="1.7"/>
<circle cx="1124.6" cy="1433.1" r="1.7"/>
<circle cx="1136" cy="1433.1" r="1.7"/>
</g>
<g fill="none" stroke="#1e1e1e" stroke-width="1.25">
<line x1="257.7" y1="1003" x2="217.3" y2="1082.4"/>
<line x1="237" y1="1258" x2="135.4" y2="1591.4"/>
<line x1="231.3" y1="1431.3" x2="139.1" y2="1591.4"/>
<line x1="334.5" y1="1345.8" x2="143.8" y2="1592"/>
<line x1="583.8" y1="1350.1" x2="463" y2="1596.3"/>
<line x1="835.8" y1="1225" x2="912" y2="1581.7"/>
<line x1="919.5" y1="1343.3" x2="917.2" y2="1579.6"/>
<line x1="1001.8" y1="1225" x2="922.7" y2="1582.5"/>
<line x1="1028" y1="1423.8" x2="1028" y2="1592.5"/>
<line x1="1031.3" y1="1321.3" x2="1136.3" y2="1606.3"/>
<line x1="1004.3" y1="1015" x2="1130.8" y2="1188.7"/>
<path d="M1213.8,1021.3 L1144,1251 Q1141.5,1262 1137.5,1266.3"/>
</g>
<g font-family="'Liberation Sans', sans-serif" fill="#111" font-weight="bold" font-size="14">
<text x="253.2" y="993.7" textLength="15.4" lengthAdjust="spacingAndGlyphs">12</text>
<text x="987" y="1009.5" textLength="15.5" lengthAdjust="spacingAndGlyphs">10</text>
<text x="1202.5" y="1011.3" textLength="15.5" lengthAdjust="spacingAndGlyphs">11</text>
<text x="130.7" y="1605" textLength="7.5" lengthAdjust="spacingAndGlyphs">4</text>
<text x="456.3" y="1615.5" textLength="8" lengthAdjust="spacingAndGlyphs">5</text>
<text x="914.5" y="1600" textLength="7.5" lengthAdjust="spacingAndGlyphs">7</text>
<text x="1024.3" y="1613" textLength="6.2" lengthAdjust="spacingAndGlyphs">1</text>
<text x="1128.8" y="1618.8" textLength="7.5" lengthAdjust="spacingAndGlyphs">2</text>
</g>
<g font-family="'Liberation Sans', sans-serif" fill="#111" stroke="#111" stroke-width="0.8" font-size="21.5">
<text x="204.3" y="1161.1" textLength="21.3" lengthAdjust="spacingAndGlyphs">B+</text>
<text x="298.75" y="1250" textLength="11.3" lengthAdjust="spacingAndGlyphs">N</text>
<text x="203.75" y="1336.25" textLength="22.5" lengthAdjust="spacingAndGlyphs">B–</text>
<text x="828" y="1130" textLength="21.3" lengthAdjust="spacingAndGlyphs">P+</text>
<text x="988.75" y="1130" textLength="23.3" lengthAdjust="spacingAndGlyphs">P–</text>
<text x="912.5" y="1248.75" textLength="11.3" lengthAdjust="spacingAndGlyphs">N</text>
<text x="454.5" y="1307.5" textLength="22.5" lengthAdjust="spacingAndGlyphs">ON</text>
<text x="645.5" y="1308.75" textLength="33.3" lengthAdjust="spacingAndGlyphs">OFF</text>
</g>
<g font-family="'Liberation Mono', monospace" fill="#1a1a1a" stroke="#1a1a1a" stroke-width="0.35" font-size="13.5">
<text x="289.2" y="1109.9" textLength="56.5" lengthAdjust="spacingAndGlyphs">AC Input</text>
<text x="1008" y="1278.6" textLength="43.5" lengthAdjust="spacingAndGlyphs">System</text>
<text x="1010.6" y="1375.9" textLength="35.7" lengthAdjust="spacingAndGlyphs">Start</text>
</g>
<g font-family="'Liberation Mono', monospace" fill="#2a2a2a" stroke="#2a2a2a" stroke-width="0.3" font-size="8">
<text x="1156.4" y="1146.5" textLength="3.6" lengthAdjust="spacingAndGlyphs">1</text>
<text x="1156.4" y="1153.2" textLength="3.6" lengthAdjust="spacingAndGlyphs">2</text>
<text x="1156.4" y="1160.2" textLength="3.6" lengthAdjust="spacingAndGlyphs">4</text>
<text x="1156.4" y="1168" textLength="3.6" lengthAdjust="spacingAndGlyphs">8</text>
<text x="1152" y="1198.3" textLength="26.2" lengthAdjust="spacingAndGlyphs">TCP/IP</text>
<text x="1157" y="1229.3" textLength="21.9" lengthAdjust="spacingAndGlyphs">T-CAN</text>
<text x="1157" y="1235.8" textLength="21.9" lengthAdjust="spacingAndGlyphs">T-485</text>
<text x="1160" y="1267.8" textLength="26.4" lengthAdjust="spacingAndGlyphs">COM-IN</text>
<text x="1160" y="1304" textLength="30.3" lengthAdjust="spacingAndGlyphs">COM-OUT</text>
<text x="1156.4" y="1346.5" textLength="12.4" lengthAdjust="spacingAndGlyphs">GND</text>
<text x="1156.4" y="1356" textLength="22.3" lengthAdjust="spacingAndGlyphs">HMI-B</text>
<text x="1156.4" y="1365.4" textLength="22.3" lengthAdjust="spacingAndGlyphs">HMI-A</text>
<text x="1156.4" y="1374.9" textLength="12.4" lengthAdjust="spacingAndGlyphs">24V</text>
<text x="1161" y="1424.7" textLength="30.2" lengthAdjust="spacingAndGlyphs">BMU-OUT</text>
</g>
<text x="887.7" y="1375.9" font-family="'Liberation Sans', sans-serif" font-weight="bold" font-size="13.5" fill="#1a1a1a" textLength="64.4" lengthAdjust="spacingAndGlyphs">D1 D1 D2 D2</text>
</svg>
</body></html>
